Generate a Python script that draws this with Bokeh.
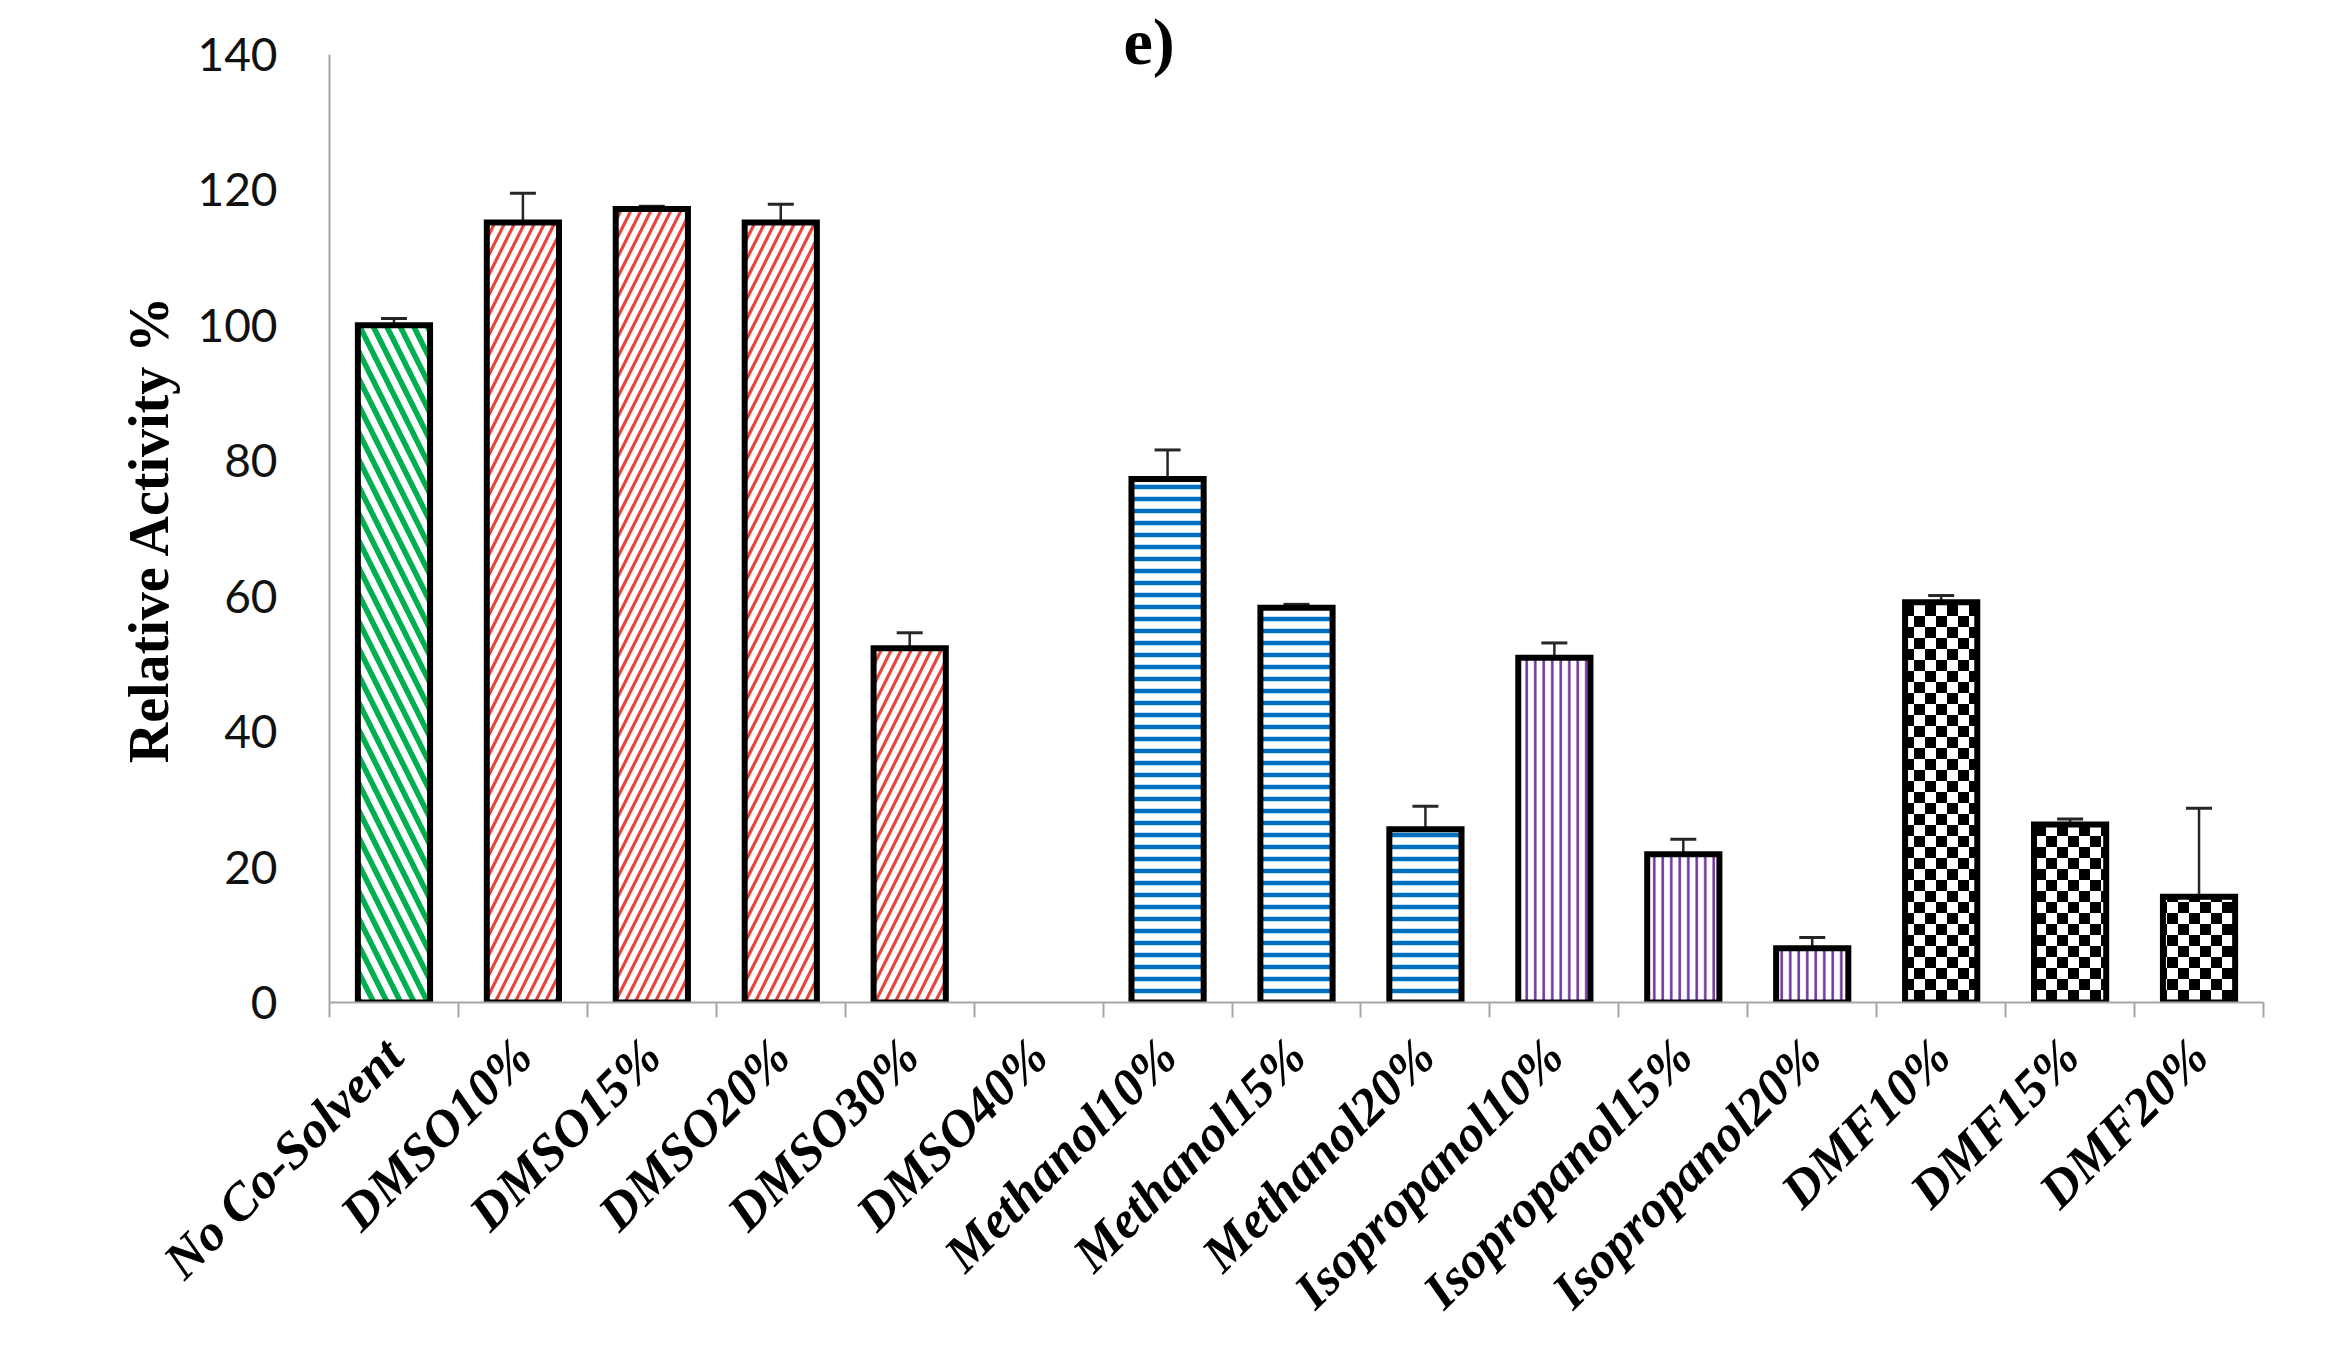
import math, zlib, struct, base64
from bokeh.plotting import figure
from bokeh.models import (ColumnDataSource, FixedTicker, Range1d, Whisker, TeeHead,
                          ImageURLTexture)
from bokeh.embed import file_html
from bokeh.resources import INLINE

# ---- data ----
categories = ["No Co-Solvent", "DMSO10%", "DMSO15%", "DMSO20%", "DMSO30%", "DMSO40%",
              "Methanol10%", "Methanol15%", "Methanol20%",
              "Isopropanol10%", "Isopropanol15%", "Isopropanol20%",
              "DMF10%", "DMF15%", "DMF20%"]
groups = ["none", "dmso", "dmso", "dmso", "dmso", "dmso",
          "methanol", "methanol", "methanol",
          "isopropanol", "isopropanol", "isopropanol",
          "dmf", "dmf", "dmf"]
activity = [100.0, 115.2, 117.2, 115.2, 52.3, 0.0,
            77.3, 58.3, 25.6,
            50.9, 21.9, 8.0,
            59.1, 26.3, 15.6]
errors = [1.0, 4.3, 0.4, 2.7, 2.3, 0.0,
          4.3, 0.5, 3.4,
          2.2, 2.2, 1.6,
          1.0, 0.8, 13.1]
y_ticks = [0, 20, 40, 60, 80, 100, 120, 140]
panel_title = "e)"


# ---- checker texture (style only) ----
def checker_png(n=11):
    size = 2 * n
    rows = []
    for yy in range(size):
        row = bytearray([0])
        for xx in range(size):
            black = (xx < n) == (yy < n)
            row += bytes((0, 0, 0, 255)) if black else bytes((255, 255, 255, 255))
        rows.append(bytes(row))
    raw = b"".join(rows)

    def chunk(t, d):
        return struct.pack(">I", len(d)) + t + d + struct.pack(">I", zlib.crc32(t + d) & 0xffffffff)

    png = (b"\x89PNG\r\n\x1a\n"
           + chunk(b"IHDR", struct.pack(">IIBBBBB", size, size, 8, 6, 0, 0, 0))
           + chunk(b"IDAT", zlib.compress(raw))
           + chunk(b"IEND", b""))
    return "data:image/png;base64," + base64.b64encode(png).decode()


checker = ImageURLTexture(url=checker_png(11))

# ---- styles ----
styles = {
    "none":        dict(hatch_pattern="left_diagonal_line", hatch_color="#00B050", hatch_scale=27, hatch_weight=5.5),
    "dmso":        dict(hatch_pattern="right_diagonal_line", hatch_color="#E8453C", hatch_scale=20, hatch_weight=3.2),
    "methanol":    dict(hatch_pattern="horizontal_line", hatch_color="#0070C0", hatch_scale=12, hatch_weight=4.5),
    "isopropanol": dict(hatch_pattern="vertical_line", hatch_color="#7030A0", hatch_scale=8.5, hatch_weight=2.5),
    "dmf":         dict(hatch_pattern="pattern", hatch_color="#000000", hatch_scale=22, hatch_weight=1),
}

idx = list(range(len(categories)))

p = figure(width=2332, height=1356,
           x_range=Range1d(-0.5, len(categories) - 0.5), y_range=Range1d(0, 140),
           output_backend="svg", toolbar_location=None,
           min_border_left=329, min_border_right=69,
           min_border_top=54, min_border_bottom=354)
p.outline_line_color = None
p.grid.visible = False
p.background_fill_color = "white"

# panel title (drawn by the title panel so it is not clipped by the frame)
p.title.text = panel_title
p.title.text_font = "Liberation Serif"
p.title.text_font_style = "bold"
p.title.text_font_size = "66px"
p.title.text_color = "black"
p.title.align = "left"
p.title.offset = 794
p.title.standoff = -46

for g, st in styles.items():
    sel = [i for i in idx if groups[i] == g and activity[i] > 0]
    src = ColumnDataSource(dict(
        x=[idx[i] for i in sel],
        top=[activity[i] for i in sel],
        pattern=["checker" for _ in sel],
    ))
    extra = {}
    if g == "dmf":
        extra = dict(hatch_extra={"checker": checker})
    p.vbar(x="x", top="top", bottom=0, width=0.56, source=src,
           fill_color="white", line_color="black", line_width=6,
           line_join="miter", **st, **extra)

# error bars
sel = [i for i in idx if activity[i] > 0]
esrc = ColumnDataSource(dict(
    base=[idx[i] for i in sel],
    upper=[activity[i] + errors[i] for i in sel],
    lower=[activity[i] - errors[i] for i in sel],
))
wcol = "#262626"
p.add_layout(Whisker(source=esrc, base="base", upper="upper", lower="lower",
                     line_color=wcol, line_width=2.5,
                     upper_head=TeeHead(size=26, line_color=wcol, line_width=3),
                     lower_head=TeeHead(size=26, line_color=wcol, line_width=3)))

# x axis
xa = p.xaxis[0]
xa.ticker = FixedTicker(ticks=idx, minor_ticks=[i - 0.5 for i in range(len(categories) + 1)])
xa.major_label_overrides = {i: c for i, c in zip(idx, categories)}
xa.major_tick_out = 0
xa.major_tick_in = 0
xa.major_tick_line_color = None
xa.minor_tick_out = 15
xa.minor_tick_in = 0
xa.minor_tick_line_color = "#A6A6A6"
xa.minor_tick_line_width = 2
xa.axis_line_color = "#A6A6A6"
xa.axis_line_width = 2
xa.major_label_orientation = math.pi / 4
xa.major_label_text_font = "Liberation Serif"
xa.major_label_text_font_style = "bold italic"
xa.major_label_text_font_size = "52px"
xa.major_label_text_color = "black"
xa.major_label_standoff = 30

# y axis
ya = p.yaxis[0]
ya.ticker = FixedTicker(ticks=y_ticks)
ya.major_tick_out = 0
ya.major_tick_in = 0
ya.major_tick_line_color = None
ya.minor_tick_line_color = None
ya.axis_line_color = "#A6A6A6"
ya.axis_line_width = 2
ya.major_label_text_font = "Lato"
ya.major_label_text_font_size = "46px"
ya.major_label_text_color = "#111111"
ya.major_label_standoff = 52
ya.axis_label = "Relative Activity %"
ya.axis_label_text_font = "Liberation Serif"
ya.axis_label_text_font_style = "bold"
ya.axis_label_text_font_size = "56px"
ya.axis_label_text_color = "black"
ya.axis_label_standoff = 14

open("out.html", "w").write(file_html(p, INLINE))
